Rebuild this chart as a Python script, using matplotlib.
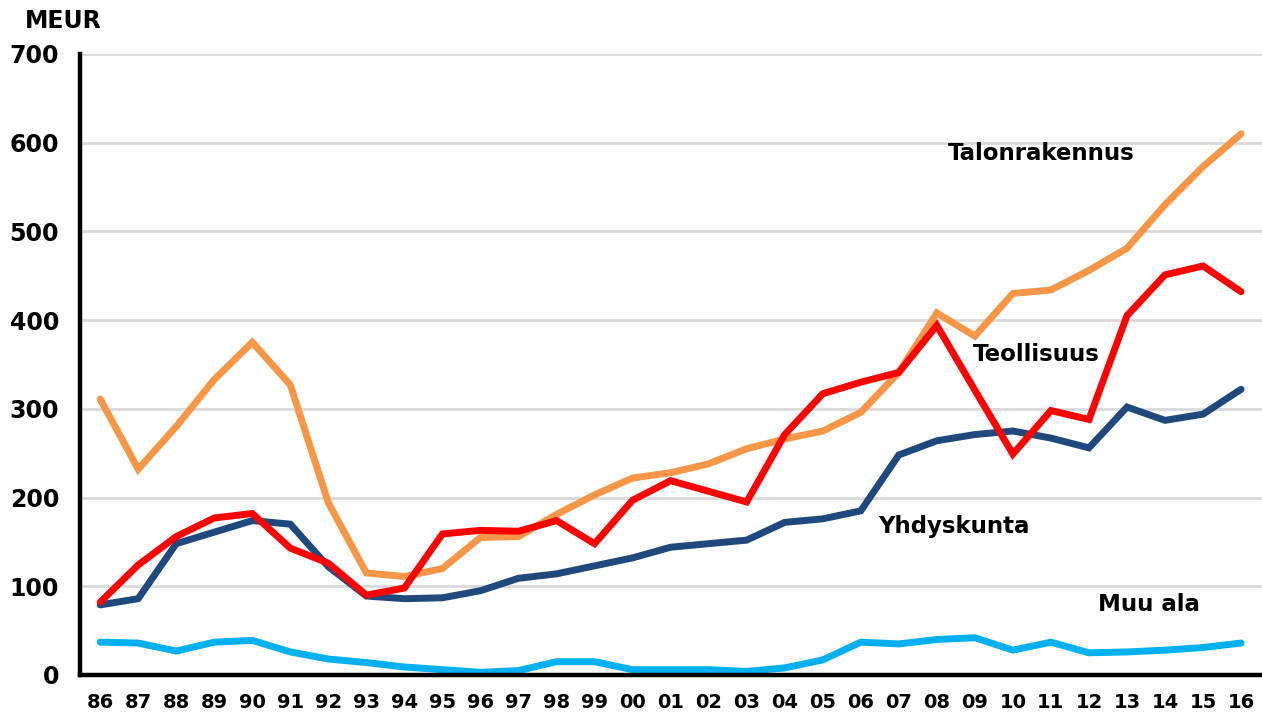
import matplotlib
matplotlib.use("Agg")
import matplotlib.pyplot as plt
import numpy as np

# ------------------------------------------------------------
# Data (MEUR), years 1986-2016
# ------------------------------------------------------------
years = ["86", "87", "88", "89", "90", "91", "92", "93", "94", "95",
         "96", "97", "98", "99", "00", "01", "02", "03", "04", "05",
         "06", "07", "08", "09", "10", "11", "12", "13", "14", "15", "16"]

talonrakennus = [311, 232, 280, 333, 375, 327, 194, 115, 111, 120,
                 155, 156, 181, 203, 222, 228, 238, 255, 266, 275,
                 296, 341, 408, 382, 430, 434, 456, 481, 530, 573, 610]

teollisuus = [82, 124, 156, 177, 182, 143, 126, 90, 98, 159,
              163, 162, 174, 148, 197, 219, 207, 195, 271, 317,
              330, 341, 394, 321, 249, 298, 288, 405, 451, 461, 432]

yhdyskunta = [79, 86, 148, 161, 174, 170, 122, 89, 86, 87,
              95, 109, 114, 123, 132, 144, 148, 152, 172, 176,
              185, 248, 264, 271, 275, 267, 256, 302, 287, 294, 322]

muu_ala = [37, 36, 27, 37, 39, 26, 18, 14, 9, 6,
           3, 5, 15, 15, 6, 6, 6, 4, 8, 17,
           37, 35, 40, 42, 28, 37, 25, 26, 28, 31, 36]

series = {
    "Talonrakennus": (talonrakennus, "#F79646"),
    "Yhdyskunta": (yhdyskunta, "#1F497D"),
    "Teollisuus": (teollisuus, "#FF0000"),
    "Muu ala": (muu_ala, "#00B0F0"),
}

# ------------------------------------------------------------
# Plot
# ------------------------------------------------------------
plt.rcParams["font.family"] = "DejaVu Sans"

fig = plt.figure(figsize=(12.62, 7.18), dpi=100)
ax = fig.add_axes([0.0634, 0.0599, 0.9366, 0.865])

x = np.arange(len(years))

ax.set_yticks(np.arange(0, 701, 100))
ax.yaxis.grid(True, color="#d9d9d9", linewidth=2)
ax.set_axisbelow(True)

for name in ["Muu ala", "Yhdyskunta", "Talonrakennus", "Teollisuus"]:
    vals, col = series[name]
    ax.plot(x, vals, color=col, linewidth=5,
            solid_capstyle="round", solid_joinstyle="miter", zorder=3)

ax.set_xlim(-0.53, 30.55)
ax.set_ylim(0, 700)

ax.set_xticks(x)
ax.set_xticklabels(years)

for s in ["top", "right"]:
    ax.spines[s].set_visible(False)
for s in ["left", "bottom"]:
    ax.spines[s].set_linewidth(3.2)
    ax.spines[s].set_color("black")
    ax.spines[s].set_zorder(4)

ax.tick_params(axis="y", length=0, pad=15, labelsize=17)
ax.tick_params(axis="x", length=0, pad=13, labelsize=14)
for lbl in ax.get_xticklabels() + ax.get_yticklabels():
    lbl.set_fontweight("bold")

fig.text(0.020, 0.971, "MEUR", fontsize=17, fontweight="bold",
         ha="left", va="center")

# Series labels
ax.text(22.3, 588, "Talonrakennus", fontsize=16.5, fontweight="bold",
        ha="left", va="center")
ax.text(22.96, 361, "Teollisuus", fontsize=16.5, fontweight="bold",
        ha="left", va="center")
ax.text(20.46, 167, "Yhdyskunta", fontsize=16.5, fontweight="bold",
        ha="left", va="center")
ax.text(26.24, 79, "Muu ala", fontsize=16.5, fontweight="bold",
        ha="left", va="center")

fig.savefig("out.png", dpi=100)
